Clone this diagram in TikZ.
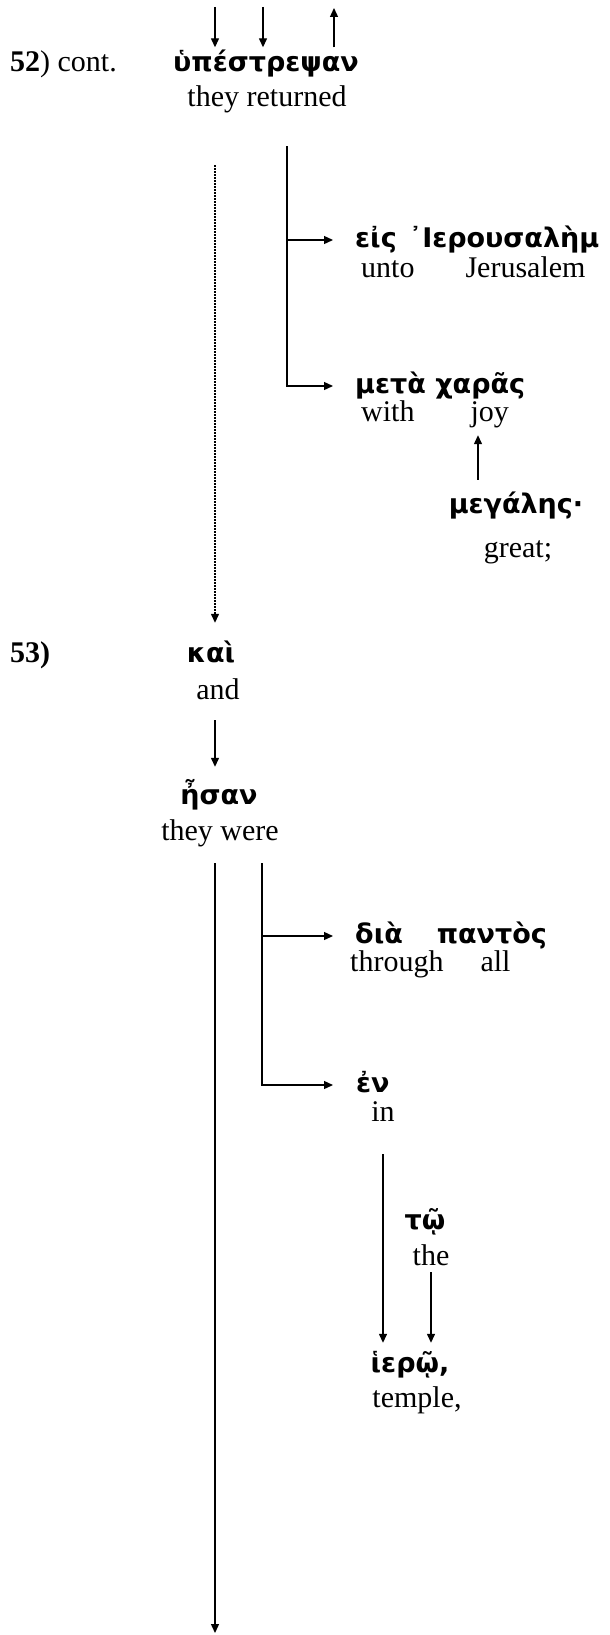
\documentclass[tikz,border=0pt]{standalone}
\usepackage{fontspec}
\setmainfont{Liberation Serif}
\newfontfamily\griegofont{DejaVu Sans}
\usetikzlibrary{arrows.meta}

\tikzset{
  griego/.style={font=\griegofont\bfseries\fontsize{27}{32}\selectfont, inner sep=0pt, text height=20.5pt, text depth=6.5pt},
  ingles/.style={font=\fontsize{30}{36}\selectfont, inner sep=0pt, text height=21pt, text depth=7pt},
  etiqueta/.style={ingles, anchor=west},
  flecha/.style={-{Triangle[length=9pt,width=8pt]}, line width=1.3pt},
  punteada/.style={flecha, dash pattern=on 1.3pt off 1.7pt}
}

\begin{document}
\begin{tikzpicture}[x=1pt,y=-1pt]
\useasboundingbox (0,0) rectangle (610,1635);

% Versiculo 52 (continuacion)
\node[etiqueta] (v52) at (10,65) {\textbf{52}) cont.};
\node[griego] (upestrepsan) at (266,65) {ὑπέστρεψαν};
\node[ingles] (returned) at (267,100) {they returned};

% Flechas que vienen de arriba
\coordinate (a1) at (215,7);
\coordinate (a2) at (263,7);
\coordinate (a3) at (334,8);
\draw[flecha, shorten >=4pt] (a1) -- (a1 |- upestrepsan.north);
\draw[flecha, shorten >=4pt] (a2) -- (a2 |- upestrepsan.north);
\draw[flecha, shorten <=4pt] (a3 |- upestrepsan.north) -- (a3);

\node[griego, anchor=west] (eis) at (355,240) {εἰς\hspace{12pt}᾿Ιερουσαλὴμ};
\node[ingles, anchor=west] (unto) at (361,270) {unto\hspace{51pt}Jerusalem};
\node[griego, anchor=west] (meta) at (355,386) {μετὰ χαρᾶς};
\node[ingles, anchor=west] (conjoy) at (361,414) {with\hspace{56pt}joy};
\node[griego] (megales) at (516,506) {μεγάλης·};
\node[ingles] (great) at (518,550) {great;};

% La llave de "they returned"
\coordinate (r1) at (287,0);
\draw[flecha, shorten <=32pt, shorten >=22pt] (returned.south -| r1) |- (eis.west);
\draw[flecha, shorten <=32pt, shorten >=22pt] (returned.south -| r1) |- (meta.west);
\coordinate (xg) at (478,0);
\draw[flecha, shorten <=12.5pt, shorten >=7pt] (megales.north -| xg) -- (conjoy.south -| xg);

% Versiculo 53
\node[etiqueta] (v53) at (10,655) {\textbf{53)}};
\node[griego] (kai) at (211,655) {καὶ};
\node[ingles] (and) at (218,692) {and};
\coordinate (x1) at (215,0);
\draw[punteada, shorten <=51pt, shorten >=18.5pt] (returned.south -| x1) -- (kai.north -| x1);
\node[griego] (esan) at (219,797) {ἦσαν};
\node[ingles] (were) at (220,833) {they were};
\draw[flecha, shorten <=14pt, shorten >=16.5pt] (and.south -| x1) -- (esan.north -| x1);

\node[griego, anchor=west] (dia) at (355,936) {διὰ\hspace{34pt}παντὸς};
\node[ingles, anchor=west] (through) at (350,964) {through\hspace{37pt}all};
\node[griego, anchor=west] (en) at (356,1085) {ἐν};
\node[ingles] (in) at (383,1114) {in};

% La llave de "they were" y la linea larga
\coordinate (fin) at (215,1633);
\coordinate (r2) at (262,0);
\draw[flecha, shorten <=16pt] (were.south -| fin) -- (fin);
\draw[flecha, shorten <=16pt, shorten >=22pt] (were.south -| r2) |- (dia.west);
\draw[flecha, shorten <=16pt, shorten >=23pt] (were.south -| r2) |- (en.west);

\node[griego] (to) at (425,1222) {τῷ};
\node[ingles] (the) at (431,1258) {the};
\node[griego] (hiero) at (410,1365) {ἱερῷ,};
\node[ingles] (temple) at (417,1400) {temple,};
\coordinate (x3) at (383,0);
\coordinate (x4) at (431,0);
\draw[flecha, shorten <=26pt, shorten >=8.5pt] (in.south -| x3) -- (hiero.north -| x3);
\draw[flecha, shorten >=8.5pt] (the.south -| x4) -- (hiero.north -| x4);
\end{tikzpicture}
\end{document}
